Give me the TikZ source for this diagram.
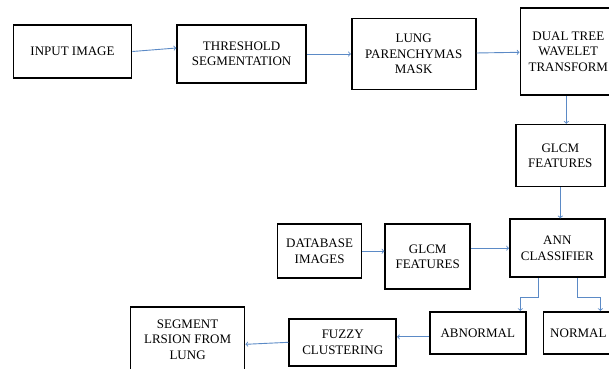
\documentclass[tikz,border=0pt]{standalone}
\usepackage{fontspec}
\setmainfont{Liberation Serif}
\usepackage{tikz}
\usetikzlibrary{arrows, positioning, calc}
\definecolor{arrowblue}{HTML}{5B8AC6}

\begin{document}
\begin{tikzpicture}[
    x=1pt, y=1pt,
    box/.style={rectangle, draw, line width=1.6pt, align=center, inner sep=2pt, font=\fontsize{13pt}{15.5pt}\selectfont},
    arrow/.style={->, >=to, line width=0.9pt, draw=arrowblue}
]
\path[use as bounding box, clip] (0,0) rectangle (609,-368);

% Top row
\node[box, minimum width=118pt, minimum height=53pt] (input) at (72.5,-51.5) {INPUT IMAGE};
\node[box, minimum width=129pt, minimum height=58pt, right=44pt of input, yshift=-2.5pt] (thresh) {THRESHOLD\\SEGMENTATION};
\node[box, minimum width=124pt, minimum height=71pt, right=44pt of thresh] (lung) {LUNG\\PARENCHYMAS\\MASK};
\node[box, minimum width=96pt, minimum height=87pt, right=43pt of lung, yshift=2.5pt] (dtcwt) {DUAL TREE\\WAVELET\\TRANSFORM};

% Right column
\node[box, minimum width=89pt, minimum height=62pt, below=28pt of dtcwt, xshift=-8pt] (glcm_img) {GLCM\\FEATURES};
\node[box, minimum width=95pt, minimum height=58pt, below=31pt of glcm_img, xshift=-3pt] (ann) {ANN\\CLASSIFIER};

% Database branch
\node[box, minimum width=85pt, minimum height=65pt, left=38pt of ann, yshift=-8.5pt] (glcm_db) {GLCM\\FEATURES};
\node[box, minimum width=84pt, minimum height=54pt, left=22pt of glcm_db, yshift=5.5pt] (database) {DATABASE\\IMAGES};

% Classes
\node[box, minimum width=96pt, minimum height=42pt, below=33pt of ann, xshift=-79.5pt] (abnormal) {ABNORMAL};
\node[box, minimum width=70pt, minimum height=42pt, right=16pt of abnormal] (normal) {NORMAL};

% Bottom row
\node[box, minimum width=107pt, minimum height=47pt, left=32pt of abnormal, yshift=-9.5pt] (fuzzy) {FUZZY\\CLUSTERING};
\node[box, minimum width=114pt, minimum height=65pt, left=43pt of fuzzy, yshift=3pt] (segment) {SEGMENT\\LRSION FROM\\LUNG};

% Arrows - top row
\draw[arrow] (input.east) -- ([yshift=6pt]thresh.west);
\draw[arrow] (thresh) -- (lung);
\draw[arrow] (lung) -- (dtcwt);
\draw[arrow] ([xshift=-2pt]dtcwt.south) -- ([xshift=-2pt]dtcwt.south |- glcm_img.north);
\draw[arrow] (glcm_img.south) -- (glcm_img.south |- ann.north);

% Arrows - database branch
\draw[arrow] (database.east) -- (database.east -| glcm_db.west);
\draw[arrow] (ann.west -| glcm_db.east) -- (ann.west);

% Arrows - classifier output
\draw[arrow] ([xshift=-19pt]ann.south) -- ++(0,-19) -| ([xshift=42.5pt]abnormal.north);
\draw[arrow] ([xshift=20pt]ann.south) -- ++(0,-19) -| ([xshift=22pt]normal.north);
\draw[arrow] ([yshift=-4pt]abnormal.west) -- ([yshift=-4pt]abnormal.west -| fuzzy.east);
\draw[arrow] (fuzzy.west) -- ([yshift=-5pt]segment.east);

\end{tikzpicture}
\end{document}
